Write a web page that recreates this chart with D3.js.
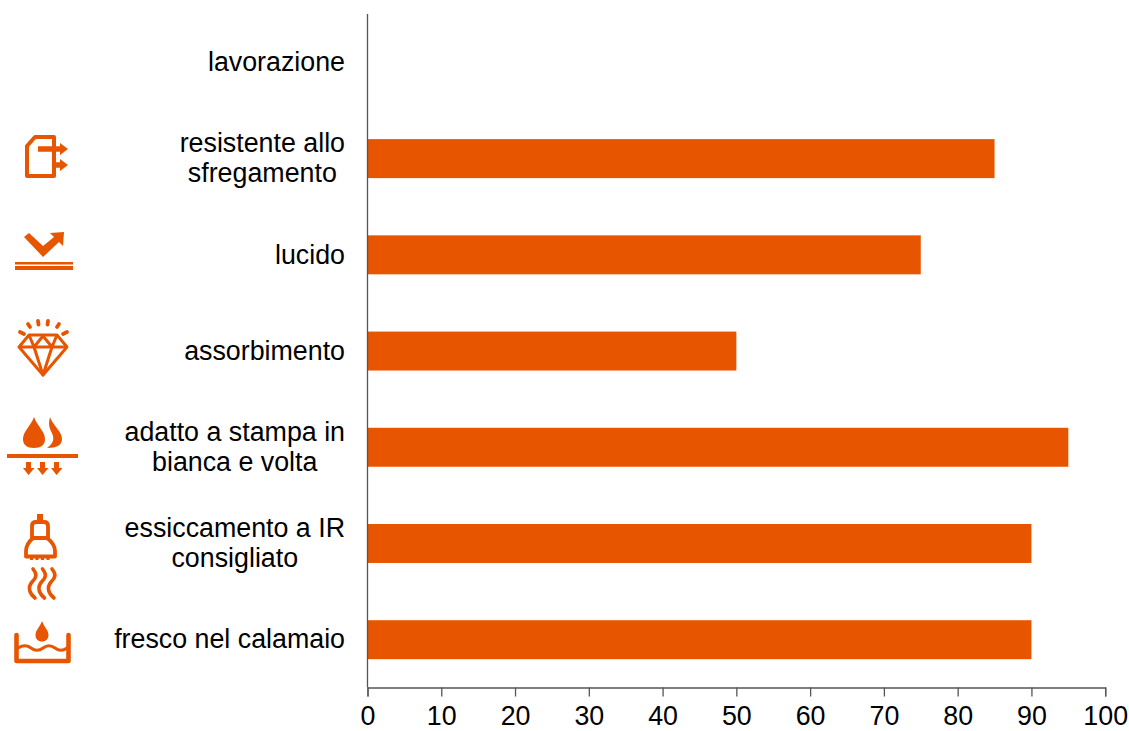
<!DOCTYPE html>
<html>
<head>
<meta charset="utf-8">
<script src="https://cdn.jsdelivr.net/npm/d3@7"></script>
<style>
html, body { margin: 0; padding: 0; background: #fff; }
</style>
</head>
<body>
<div class="chart"></div>
<script>
var w = 1129;
var h = 731;
var orange = "#e85500";
var axisColor = "#555555";

// top to bottom
var categories = ["lavorazione", "resistente allo", "lucido", "assorbimento", "adatto a stampa", "essiccamento", "fresco"];
var labelLines = [
	["lavorazione"],
	["resistente allo", "sfregamento"],
	["lucido"],
	["assorbimento"],
	["adatto a stampa in", "bianca e volta"],
	["essiccamento a IR", "consigliato"],
	["fresco nel calamaio"]
];
var values = [0, 85, 75, 50, 95, 90, 90];
var xTicks = [0, 10, 20, 30, 40, 50, 60, 70, 80, 90, 100];

var svg = d3.select(".chart")
	.append("svg")
	.attr("width", w)
	.attr("height", h)
	.style("display", "block")
	.style("font-family", "'Liberation Sans', Arial, sans-serif");

var x = d3.scaleLinear().domain([0, 100]).range([367.5, 1105.2]);
var y = d3.scaleBand().domain(categories).range([14.3, 687.8]).paddingInner(0.595).paddingOuter(0.2975);

drawBars();
drawAxes();
drawLabels();
drawIcons();

function drawBars() {
	svg.append("g").selectAll("rect")
		.data(values)
		.enter()
		.append("rect")
		.attr("x", x(0))
		.attr("y", function(d, i) { return y(categories[i]); })
		.attr("width", function(d) { return x(d) - x(0); })
		.attr("height", y.bandwidth())
		.attr("fill", orange);
}

function drawAxes() {
	var xAxis = svg.append("g")
		.attr("transform", "translate(0,687.5)")
		.call(d3.axisBottom(x).tickValues(xTicks).tickSize(9).tickPadding(9).tickFormat(d3.format("d")));
	xAxis.select(".domain").attr("stroke", axisColor).attr("stroke-width", 1.3);
	xAxis.selectAll(".tick line").attr("stroke", axisColor).attr("stroke-width", 1.3);
	xAxis.selectAll(".tick text")
		.attr("fill", "#000")
		.attr("font-size", 26.8)
		.attr("font-family", "'Liberation Sans', Arial, sans-serif");

	svg.append("line")
		.attr("x1", x(0))
		.attr("x2", x(0))
		.attr("y1", 14)
		.attr("y2", 687.5)
		.attr("stroke", axisColor)
		.attr("stroke-width", 1.3);
}

function drawLabels() {
	var rows = svg.append("g").selectAll("text")
		.data(labelLines)
		.enter()
		.append("text")
		.attr("text-anchor", "middle")
		.attr("font-size", 26.8)
		.attr("fill", "#000")
		.attr("y", function(d, i) {
			return y(categories[i]) + y.bandwidth() / 2 + 8.7 - (d.length - 1) * 15;
		});

	// lines are centred on each other, the block sits against the axis
	rows.each(function(d) {
		var row = d3.select(this);
		var top = +row.attr("y");
		var spans = d.map(function(line, j) {
			return row.append("tspan")
				.attr("y", top + j * 30)
				.text(line);
		});
		var widest = d3.max(spans, function(s) { return s.node().getComputedTextLength(); });
		spans.forEach(function(s) {
			s.attr("x", 345 - widest / 2);
		});
	});
}

function drawIcons() {
	var icons = svg.append("g");

	// resistente allo sfregamento
	var rub = icons.append("g").attr("fill", "none").attr("stroke", orange).attr("stroke-width", 4).attr("stroke-linejoin", "round");
	rub.append("path").attr("d", "M54 137V176H27V146L35 137Z");
	rub.append("path").attr("d", "M38 149H62M54 165H62").attr("stroke-width", 5.5);
	icons.append("path").attr("fill", orange).attr("d", "M60 143L68 149L60 155ZM60 159L68 165L60 171Z");

	// lucido
	icons.append("path").attr("fill", orange)
		.attr("d", "M24 237L29 233L43 246L54 237L50 233L64 232L63 246L59 242L43 257Z");
	icons.append("rect").attr("x", 15).attr("y", 262).attr("width", 58).attr("height", 2.5).attr("fill", orange);
	icons.append("rect").attr("x", 15).attr("y", 266).attr("width", 58).attr("height", 4).attr("fill", orange);

	// assorbimento
	var gem = icons.append("g").attr("fill", "none").attr("stroke", orange).attr("stroke-width", 3).attr("stroke-linejoin", "round");
	gem.append("path").attr("d", "M29 335H57L67 347L43 375L19 347Z");
	gem.append("path").attr("d", "M19 347H67M29 335L34 347L43 375L52 347L57 335M34 347L43 336L52 347");
	icons.append("path").attr("fill", "none").attr("stroke", orange).attr("stroke-width", 3.8).attr("stroke-linecap", "round")
		.attr("d", "M20 332L24 334M28 324L30 327M38 321L38.500 324.500M48 321L47.500 324.500M59 324L57 327M67 332L63 334");

	// adatto a stampa in bianca e volta
	icons.append("path").attr("fill", orange)
		.attr("d", "M34 417C37 426 45 431 45 439C45 445 41 448 34 448C27 448 23 445 23 439C23 431 31 426 34 417Z");
	icons.append("path").attr("fill", orange)
		.attr("d", "M50 417C53 426 62 431 62 439C62 445 57 448 47 448C52 444 54 441 53 436C52 431 47 428 50 417Z");
	icons.append("rect").attr("x", 7).attr("y", 454).attr("width", 71).attr("height", 4).attr("fill", orange);
	icons.append("path").attr("fill", orange)
		.attr("d", "M26 462H31V468H34.500L28.500 475L23 468H26ZM40 462H45V468H48.500L42.500 475L37 468H40ZM54 462H59V468H62.500L56.500 475L51 468H54Z");

	// essiccamento a IR consigliato
	var lamp = icons.append("g").attr("fill", "none").attr("stroke", orange).attr("stroke-width", 3.8).attr("stroke-linejoin", "round");
	lamp.append("path").attr("d", "M32 538V526Q32 522 36 522H44Q48 522 48 526V538");
	lamp.append("path").attr("d", "M26 556.500V551Q26 544 33 538H47Q55 544 55 551V556.500Z");
	icons.append("rect").attr("x", 37).attr("y", 514).attr("width", 6).attr("height", 8).attr("fill", orange);
	icons.append("path").attr("fill", orange)
		.attr("d", "M30 557H33V560H30ZM35.500 557H38.500V560H35.500ZM41 557H44V560H41ZM46.500 557H49.500V560H46.500Z");
	icons.append("path").attr("fill", "none").attr("stroke", orange).attr("stroke-width", 3.6).attr("stroke-linecap", "round")
		.attr("d", "M33 569C37 574 37 577 32 582C27 588 30 594 35 598M42.500 569C46.500 574 46.500 577 41.500 582C36.500 588 39.500 594 44.500 598M52 569C56 574 56 577 51 582C46 588 49 594 54 598");

	// fresco nel calamaio
	icons.append("path").attr("fill", orange)
		.attr("d", "M42 621C44 627 48.500 630 48.500 635C48.500 639 46 641.500 42 641.500C38 641.500 35.500 639 35.500 635C35.500 630 40 627 42 621Z");
	var tray = icons.append("g").attr("fill", "none").attr("stroke", orange).attr("stroke-linecap", "round").attr("stroke-linejoin", "round");
	tray.append("path").attr("stroke-width", 4.6).attr("d", "M16.500 635V661H68.500V635");
	tray.append("path").attr("stroke-width", 3).attr("d", "M18 648C23 645 27 645 31 648C35 651 39 651 43 648C47 645 51 645 55 648C59 651 63 651 67 648");
}
</script>
</body>
</html>
